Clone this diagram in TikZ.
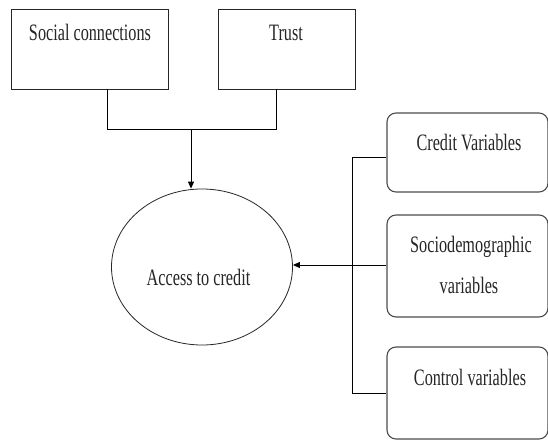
\documentclass[tikz,border=0pt]{standalone}
\usepackage{fontspec}
\setmainfont{Liberation Serif}
\newfontfamily\condserif[FakeStretch=0.69]{Liberation Serif}
\usetikzlibrary{arrows.meta,shapes.geometric}
\begin{document}
\begin{tikzpicture}[x=1pt,y=-1pt,
  sqbox/.style={draw=black!85, line width=0.9pt, inner sep=0pt},
  rbox/.style={draw=black!70, line width=1.1pt, rounded corners=9pt, inner sep=0pt},
  lbl/.style={font=\condserif\fontsize{23.5}{26}\selectfont, inner sep=0pt, anchor=base, text=black!85},
  conn/.style={draw=black, line width=0.9pt},
  arr/.style={conn, -{Triangle[length=7pt,width=6pt]}}]
\useasboundingbox[fill=white] (0,0) rectangle (548,441);
% top boxes
\node[sqbox, minimum width=157pt, minimum height=80pt] (sc) at (89.5,49) {};
\node[lbl] (sct) at (90,41) {Social connections};
\node[sqbox, minimum width=137pt, minimum height=80pt] (tr) at (286.5,49) {};
\node[lbl] (trt) at (286,41) {Trust};
% ellipse
\node[draw=black!85, line width=0.8pt, ellipse, minimum width=181pt, minimum height=156pt, inner sep=0pt] (ac) at (202,267) {};
\node[lbl] (act) at (198.5,285) {Access to credit};
% right rounded boxes
\node[rbox, minimum width=161pt, minimum height=79pt] (cv) at (467.5,152.5) {};
\node[lbl] (cvt) at (469,150) {Credit Variables};
\node[rbox, minimum width=161pt, minimum height=102pt] (sd) at (467.5,266) {};
\node[lbl] (sdt1) at (471,252) {Sociodemographic};
\node[lbl] (sdt2) at (469,293) {variables};
\node[rbox, minimum width=161pt, minimum height=92pt] (ctl) at (467.5,393) {};
\node[lbl] (ctlt) at (470,385) {Control variables};
% connectors top
\coordinate (j1) at (107,129);
\coordinate (j2) at (276,129);
\coordinate (jm) at (191,129);
\draw[conn] (sc.south -| j1) -- (j1) -- (j2) -- (tr.south -| j2);
\draw[arr] (jm) -- (ac.north -| jm);
% connectors right
\coordinate (v1) at (352,157);
\coordinate (v2) at (352,265);
\coordinate (v3) at (352,393);
\draw[conn] (cv.west |- v1) -- (v1) -- (v3) -- (ctl.west |- v3);
\draw[conn] (sd.west |- v2) -- (v2);
\draw[arr] (v2) -- (ac.east |- v2);
\end{tikzpicture}
\end{document}
